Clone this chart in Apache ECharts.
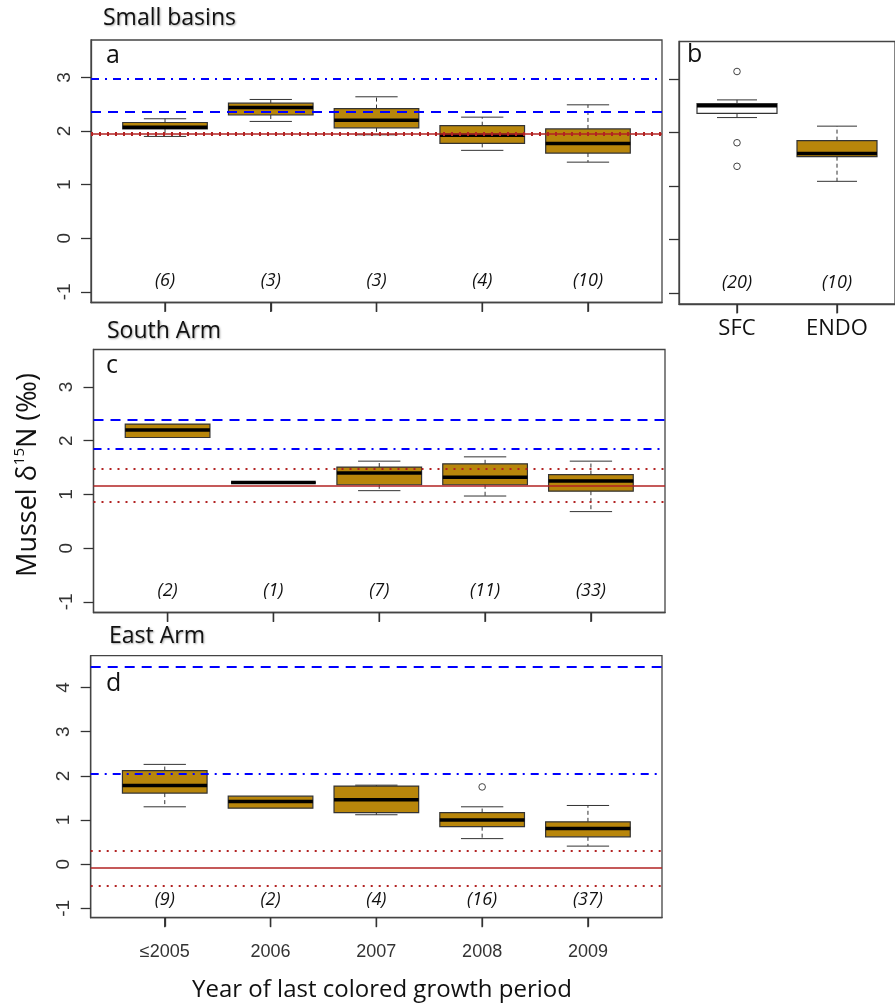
<!DOCTYPE html>
<html>
<head>
<meta charset="utf-8">
<script src="https://cdn.jsdelivr.net/npm/echarts@6/dist/echarts.min.js"></script>
<style>
html,body{margin:0;padding:0;background:#fff;}
#chart{width:895px;height:1005px;}
</style>
</head>
<body>
<div id="chart"></div>
<script>
// ---------- DATA ----------
const categories = ['≤2005', '2006', '2007', '2008', '2009'];
const bCategories = ['SFC', 'ENDO'];
const yTicksABC = [-1, 0, 1, 2, 3];
const yTicksD = [-1, 0, 1, 2, 3, 4];

// box stats: [lower whisker, Q1, median, Q3, upper whisker]
const boxA = [[1.90, 2.04, 2.07, 2.16, 2.23], [2.18, 2.30, 2.44, 2.52, 2.59], [1.93, 2.06, 2.20, 2.42, 2.64], [1.64, 1.77, 1.92, 2.10, 2.26], [1.42, 1.59, 1.77, 2.04, 2.49]];
const countsA = ['(6)', '(3)', '(3)', '(4)', '(10)'];
const refA = [2.97, 2.36, 1.95, 1.93, 1.97];
const refKindA = ['dashdot', 'dash', 'solid', 'dotted', 'dotted'];

const boxB = [[2.28, 2.36, 2.50, 2.54, 2.61], [1.09, 1.55, 1.61, 1.85, 2.12]];
const outliersB = [[3.14, 1.81, 1.37], []];
const countsB = ['(20)', '(10)'];

const boxC = [[2.06, 2.06, 2.20, 2.31, 2.31], [1.22, 1.22, 1.22, 1.22, 1.22], [1.07, 1.18, 1.40, 1.51, 1.62], [0.97, 1.18, 1.32, 1.57, 1.70], [0.68, 1.06, 1.25, 1.37, 1.62]];
const countsC = ['(2)', '(1)', '(7)', '(11)', '(33)'];
const refC = [2.40, 1.86, 1.17, 1.47, 0.87];
const refKindC = ['dash', 'dashdot', 'solid', 'dotted', 'dotted'];

const boxD = [[1.30, 1.61, 1.78, 2.12, 2.26], [1.27, 1.27, 1.42, 1.54, 1.54], [1.12, 1.17, 1.46, 1.77, 1.79], [0.58, 0.85, 1.00, 1.17, 1.30], [0.41, 0.62, 0.81, 0.96, 1.33]];
const outliersD = [[], [], [], [1.75], []];
const countsD = ['(9)', '(2)', '(4)', '(16)', '(37)'];
const refD = [4.47, 2.04, -0.09, 0.31, -0.48];
const refKindD = ['dash', 'dashdot', 'solid', 'dotted', 'dotted'];

// ---------- STYLE ----------
const GOLD = '#B8860B';
const BLUE = '#0000FF';
const RED = '#B22222';
const FRAME = '#444';
const COUNT_Y = -0.8;
const TEXT_FONT = "'Open Sans', 'Liberation Sans', sans-serif";
const TICK_FONT = "'Liberation Sans Narrow', 'Liberation Sans', Arial, sans-serif";

function refStyle(kind) {
  if (kind === 'dashdot') return { color: BLUE, width: 2, type: [8, 6, 2, 6] };
  if (kind === 'dash') return { color: BLUE, width: 2, type: [10, 7] };
  if (kind === 'solid') return { color: RED, width: 1.7, type: 'solid' };
  return { color: RED, width: 2, type: [2, 6] };
}

function boxRenderer(fills) {
  return function (params, api) {
    const x = api.value(0);
    const lo = api.value(1), q1 = api.value(2), md = api.value(3), q3 = api.value(4), hi = api.value(5);
    const half = api.size([0.4, 0])[0];
    const cap = half / 2;
    const pLo = api.coord([x, lo]), pQ1 = api.coord([x, q1]), pMd = api.coord([x, md]),
          pQ3 = api.coord([x, q3]), pHi = api.coord([x, hi]);
    const cx = pMd[0];
    const bottom = params.coordSys.y + params.coordSys.height;
    const ws = { stroke: '#333', lineWidth: 1, lineDash: [4, 3] };
    const cs = { stroke: '#333', lineWidth: 1 };
    const ch = [];
    // category tick mark below the frame
    ch.push({ type: 'line', shape: { x1: cx, y1: bottom, x2: cx, y2: bottom + 9.5 },
              style: { stroke: '#333', lineWidth: 1.4 } });
    if (hi > q3) {
      ch.push({ type: 'line', shape: { x1: cx, y1: pQ3[1], x2: cx, y2: pHi[1] }, style: ws });
      ch.push({ type: 'line', shape: { x1: cx - cap, y1: pHi[1], x2: cx + cap, y2: pHi[1] }, style: cs });
    }
    if (lo < q1) {
      ch.push({ type: 'line', shape: { x1: cx, y1: pQ1[1], x2: cx, y2: pLo[1] }, style: ws });
      ch.push({ type: 'line', shape: { x1: cx - cap, y1: pLo[1], x2: cx + cap, y2: pLo[1] }, style: cs });
    }
    ch.push({ type: 'rect', shape: { x: cx - half, y: pQ3[1], width: 2 * half, height: pQ1[1] - pQ3[1] },
              style: { fill: fills[params.dataIndex % fills.length], stroke: '#333', lineWidth: 1.2 } });
    ch.push({ type: 'line', shape: { x1: cx - half, y1: pMd[1], x2: cx + half, y2: pMd[1] },
              style: { stroke: '#000', lineWidth: 3.5 } });
    return { type: 'group', children: ch };
  };
}

function countRenderer(counts) {
  return function (params, api) {
    const p = api.coord([api.value(0), api.value(1)]);
    return { type: 'text', x: p[0], y: p[1],
      style: { text: counts[params.dataIndex], fill: '#111', font: 'italic 18px ' + TEXT_FONT,
               textAlign: 'center', textVerticalAlign: 'middle' } };
  };
}

function outlierRenderer(params, api) {
  const p = api.coord([api.value(0), api.value(1)]);
  return { type: 'circle', shape: { cx: p[0], cy: p[1], r: 3.3 },
           style: { fill: '#fff', stroke: '#444', lineWidth: 1 } };
}

const grids = [
  { left: 91, top: 40, width: 571, height: 262.5 },
  { left: 679, top: 41.5, width: 226, height: 262.5 },
  { left: 93.5, top: 349.5, width: 571.5, height: 263 },
  { left: 90.7, top: 655.7, width: 571.3, height: 262 }
].map(g => Object.assign(g, { show: true, borderColor: FRAME, borderWidth: 1.3, backgroundColor: 'transparent', containLabel: false }));

function xAxisFor(idx, min, max, labels, labelFont) {
  const vals = labels.map((_, i) => i + 1);
  return {
    type: 'value', gridIndex: idx, min: min, max: max, position: 'bottom',
    axisLine: { show: true, onZero: false, lineStyle: { color: FRAME, width: 1.3 } }, splitLine: { show: false },
    axisTick: { show: true, inside: false, length: 9, customValues: vals, lineStyle: { color: '#333', width: 1.3 } },
    axisLabel: labelFont ? Object.assign({ show: true, customValues: vals, formatter: v => labels[Math.round(v) - 1] }, labelFont)
                         : { show: false, customValues: vals }
  };
}

function yAxisFor(idx, min, max, ticks, showLabels) {
  return {
    type: 'value', gridIndex: idx, min: min, max: max, position: 'left',
    axisLine: { show: true, onZero: false, lineStyle: { color: FRAME, width: 1.3 } }, splitLine: { show: false },
    axisTick: { show: true, length: 10, customValues: ticks, lineStyle: { color: '#333', width: 1.3 } },
    axisLabel: showLabels ? { show: true, customValues: ticks, rotate: 90, margin: 17, fontSize: 19,
                              fontFamily: TICK_FONT, color: '#333' } : { show: false }
  };
}

const xAxes = [
  xAxisFor(0, 0.3, 5.7, categories, null),
  xAxisFor(1, 0.42, 2.58, bCategories, { margin: 14, fontSize: 22, fontFamily: TEXT_FONT, color: '#111' }),
  xAxisFor(2, 0.3, 5.7, categories, null),
  xAxisFor(3, 0.3, 5.7, categories, { margin: 25, fontSize: 18, fontFamily: TICK_FONT, color: '#333' })
];
const yAxes = [
  yAxisFor(0, -1.2, 3.7, yTicksABC, true),
  yAxisFor(1, -1.2, 3.7, yTicksABC, false),
  yAxisFor(2, -1.2, 3.7, yTicksABC, true),
  yAxisFor(3, -1.21, 4.72, yTicksD, true)
];

const series = [];
function addPanel(idx, boxes, fills, counts, outliers, refs, kinds) {
  series.push({
    type: 'custom', xAxisIndex: idx, yAxisIndex: idx, z: 3, clip: false,
    renderItem: boxRenderer(fills),
    encode: { x: 0, y: [1, 2, 3, 4, 5] },
    data: boxes.map((b, i) => [i + 1].concat(b))
  });
  if (outliers) {
    const pts = [];
    outliers.forEach((arr, i) => arr.forEach(v => pts.push([i + 1, v])));
    series.push({
      type: 'custom', xAxisIndex: idx, yAxisIndex: idx, z: 4,
      renderItem: outlierRenderer,
      encode: { x: 0, y: 1 },
      data: pts
    });
  }
  series.push({
    type: 'custom', xAxisIndex: idx, yAxisIndex: idx, z: 4,
    renderItem: countRenderer(counts),
    encode: { x: 0, y: 1 },
    data: counts.map((c, i) => [i + 1, COUNT_Y])
  });
  if (refs) {
    series.push({
      type: 'line', xAxisIndex: idx, yAxisIndex: idx, z: 10, data: [], silent: true,
      markLine: {
        silent: true, symbol: ['none', 'none'], label: { show: false }, animation: false,
        data: refs.map((v, i) => ({ yAxis: v, lineStyle: refStyle(kinds[i]) }))
      }
    });
  }
}
addPanel(0, boxA, [GOLD], countsA, null, refA, refKindA);
addPanel(1, boxB, ['#FFFFFF', GOLD], countsB, outliersB, null, null);
addPanel(2, boxC, [GOLD], countsC, null, refC, refKindC);
addPanel(3, boxD, [GOLD], countsD, outliersD, refD, refKindD);

const titleStyle = { fill: '#111', font: '23px ' + TEXT_FONT, textVerticalAlign: 'middle',
  textShadowColor: 'rgba(0,0,0,0.35)', textShadowBlur: 2, textShadowOffsetX: 1, textShadowOffsetY: 1 };
const letterStyle = { fill: '#111', font: '25px ' + TEXT_FONT, textVerticalAlign: 'middle' };

const graphic = [
  { type: 'text', left: 103, top: 7, style: Object.assign({ text: 'Small basins' }, titleStyle) },
  { type: 'text', left: 107, top: 320, style: Object.assign({ text: 'South Arm' }, titleStyle) },
  { type: 'text', left: 109, top: 625, style: Object.assign({ text: 'East Arm' }, titleStyle) },
  { type: 'text', left: 106, top: 43, style: Object.assign({ text: 'a' }, letterStyle) },
  { type: 'text', left: 687, top: 42, style: Object.assign({ text: 'b' }, letterStyle) },
  { type: 'text', left: 106, top: 353, style: Object.assign({ text: 'c' }, letterStyle) },
  { type: 'text', left: 106, top: 671, style: Object.assign({ text: 'd' }, letterStyle) },
  { type: 'text', x: 28, y: 475, rotation: Math.PI / 2,
    style: { text: '{a|Mussel δ}{s|15}{a|N (‰)}', textAlign: 'center', textVerticalAlign: 'middle',
      rich: { a: { fontSize: 27, fontFamily: TEXT_FONT, fill: '#111', lineHeight: 32 },
              s: { fontSize: 15, fontFamily: TEXT_FONT, fill: '#111', lineHeight: 18, verticalAlign: 'top' } } } },
  { type: 'text', x: 382, y: 990,
    style: { text: 'Year of last colored growth period', fill: '#111', font: '24px ' + TEXT_FONT,
             textAlign: 'center', textVerticalAlign: 'middle' } }
];

const chart = echarts.init(document.getElementById('chart'), null, { renderer: 'canvas' });
chart.setOption({
  animation: false,
  backgroundColor: '#fff',
  grid: grids,
  xAxis: xAxes,
  yAxis: yAxes,
  series: series,
  graphic: graphic
});
</script>
</body>
</html>
